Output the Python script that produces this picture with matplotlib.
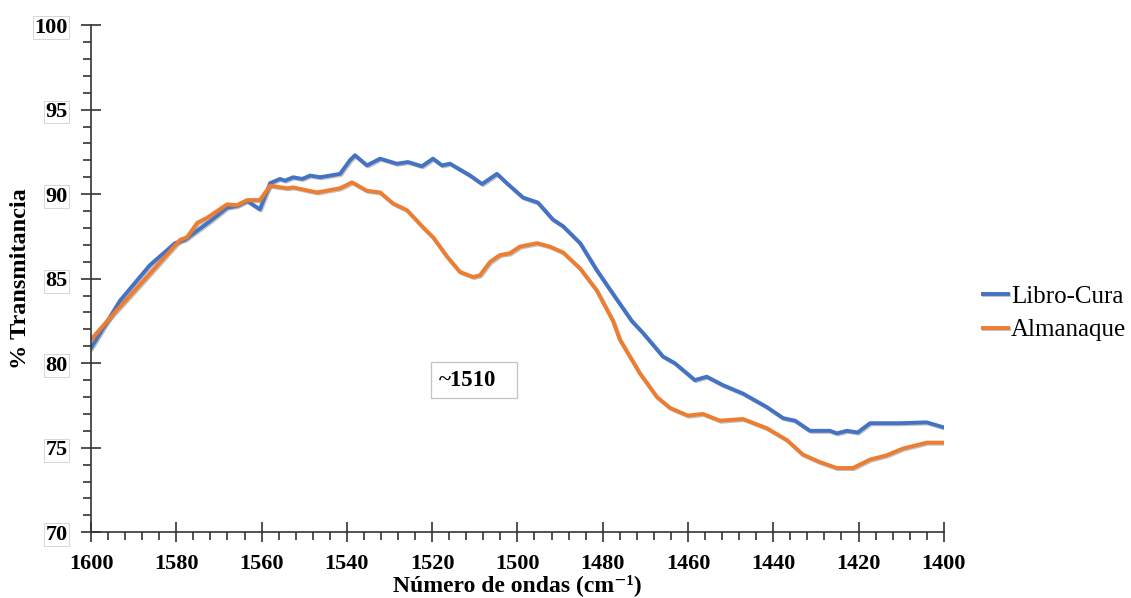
import numpy as np
import matplotlib.pyplot as plt
from matplotlib.ticker import MultipleLocator
from matplotlib.patches import Rectangle
import matplotlib.patheffects as pe

plt.rcParams['font.family'] = ['Liberation Serif', 'DejaVu Serif']

# wavenumber (cm-1) and transmittance (%) for each sample
wn_libro = [1600, 1593.2, 1586.2, 1580.3, 1578.0, 1572.1, 1568.1, 1565.8, 1563.4,
            1560.4, 1558.0, 1555.7, 1554.5, 1552.6, 1550.5, 1548.6, 1546.3, 1541.6,
            1539.3, 1538.1, 1535.3, 1532.2, 1528.3, 1525.7, 1522.4, 1519.8, 1517.7,
            1515.8, 1511.1, 1508.3, 1504.8, 1502.5, 1498.7, 1495.2, 1491.7, 1489.3,
            1485.3, 1481.4, 1477.6, 1473.2, 1470.6, 1465.9, 1463.1, 1458.4, 1455.6,
            1451.8, 1447.1, 1441.5, 1437.7, 1434.9, 1431.4, 1426.7, 1425.1, 1422.7,
            1420.2, 1417.3, 1410.3, 1404.0, 1400.0]
t_libro = [80.9, 83.7, 85.8, 87.1, 87.3, 88.4, 89.2, 89.3, 89.6,
           89.1, 90.65, 90.9, 90.8, 91.0, 90.9, 91.1, 91.0, 91.2,
           92.0, 92.3, 91.7, 92.1, 91.8, 91.9, 91.65, 92.1, 91.7,
           91.8, 91.1, 90.6, 91.2, 90.65, 89.8, 89.5, 88.5, 88.1,
           87.1, 85.5, 84.1, 82.5, 81.8, 80.4, 80.0, 79.0, 79.2,
           78.7, 78.2, 77.4, 76.75, 76.6, 76.0, 76.0, 75.85, 76.0,
           75.9, 76.45, 76.45, 76.5, 76.2]

wn_alma = [1600, 1595.5, 1586.9, 1579.1, 1577.5, 1575.1, 1572.8, 1568.1, 1565.8,
           1563.4, 1560.4, 1558.0, 1554.0, 1552.6, 1547.0, 1541.6, 1538.8, 1535.3,
           1532.2, 1529.2, 1525.9, 1522.2, 1519.8, 1516.5, 1513.5, 1510.4, 1508.8,
           1506.4, 1504.1, 1501.8, 1499.4, 1495.4, 1492.4, 1489.3, 1485.3, 1481.4,
           1477.6, 1476.0, 1471.3, 1467.3, 1464.2, 1460.0, 1456.5, 1452.5, 1447.1,
           1441.5, 1436.8, 1433.1, 1429.1, 1425.1, 1421.3, 1417.3, 1413.4, 1409.6,
           1404.0, 1400.0]
t_alma = [81.4, 82.7, 85.1, 87.3, 87.45, 88.3, 88.6, 89.4, 89.35,
          89.65, 89.65, 90.5, 90.35, 90.4, 90.1, 90.35, 90.7, 90.2,
          90.1, 89.45, 89.05, 88.05, 87.45, 86.3, 85.4, 85.1, 85.2,
          86.0, 86.4, 86.5, 86.9, 87.1, 86.9, 86.55, 85.6, 84.3,
          82.5, 81.4, 79.4, 78.0, 77.35, 76.9, 77.0, 76.6, 76.7,
          76.15, 75.45, 74.6, 74.15, 73.8, 73.8, 74.3, 74.55, 74.95,
          75.3, 75.3]

fig = plt.figure(figsize=(11.31, 5.98), dpi=100)
ax = fig.add_axes([0.0805, 0.110, 0.754, 0.848])

shadow = [pe.SimpleLineShadow(offset=(0.8, -0.8), shadow_color='gray', alpha=0.5), pe.Normal()]
ax.plot(wn_libro, t_libro, color='#4472C4', lw=2.8, label='Libro-Cura',
        solid_joinstyle='round', path_effects=shadow)
ax.plot(wn_alma, t_alma, color='#ED7D31', lw=2.8, label='Almanaque',
        solid_joinstyle='round', path_effects=shadow)

ax.set_xlim(1600, 1400)
ax.set_ylim(70, 100)
ax.xaxis.set_major_locator(MultipleLocator(20))
ax.xaxis.set_minor_locator(MultipleLocator(4))
ax.yaxis.set_major_locator(MultipleLocator(5))
ax.yaxis.set_minor_locator(MultipleLocator(1))
ax.tick_params(which='major', direction='inout', length=14, width=1.2, color='#333333')
ax.tick_params(which='minor', direction='out', length=6, width=1.2, color='#333333')
ax.tick_params(axis='x', which='major', labelsize=16, pad=9)
ax.tick_params(axis='y', which='major', labelsize=16, pad=10)
for lab in ax.get_xticklabels() + ax.get_yticklabels():
    lab.set_fontweight('bold')
for lab in ax.get_yticklabels():
    lab.set_bbox(dict(facecolor='white', edgecolor='#d0d0d0', lw=0.6, pad=1))

for s in ['top', 'right']:
    ax.spines[s].set_visible(False)
for s in ['left', 'bottom']:
    ax.spines[s].set_linewidth(1.2)
    ax.spines[s].set_color('#333333')

ax.set_xlabel('Número de ondas (cm⁻¹)', fontsize=17, fontweight='bold', labelpad=0)
ax.set_ylabel('% Transmitancia', fontsize=17.5, fontweight='bold', labelpad=2)

# peak annotation box
ax.add_patch(Rectangle((1520.3, 77.93), -20.2, 2.13, facecolor='white', edgecolor='#c4c4c4',
                       lw=0.9, zorder=3))
ax.text(1511.6, 79.0, '~1510', ha='center', va='center', fontsize=16.5, fontweight='bold',
        zorder=4)

ax.legend(loc='center left', bbox_to_anchor=(1.02, 0.432), frameon=False, fontsize=18,
          handlelength=1.0, handletextpad=0.1, labelspacing=0.45)

fig.savefig('out.png', dpi=100)
